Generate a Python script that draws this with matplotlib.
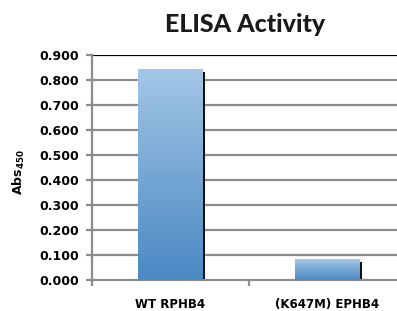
import matplotlib
matplotlib.use("Agg")
import matplotlib.pyplot as plt
import numpy as np
from matplotlib.colors import LinearSegmentedColormap

categories = ["WT RPHB4", "(K647M) EPHB4"]
values = [0.844, 0.084]
yticks = [0.0, 0.1, 0.2, 0.3, 0.4, 0.5, 0.6, 0.7, 0.8, 0.9]

fig = plt.figure(figsize=(3.97, 3.11), dpi=100)
ax = fig.add_axes([92/397, 31/311, 1 - 92/397, 225/311])
ax.set_xlim(-0.5, 1.443)
ax.set_ylim(0, 0.9)

# gridlines
for t in yticks[1:]:
    ax.axhline(t, color="#000000" if t == 0.9 else "#8c8c8c",
               lw=1.6, zorder=1)

cmap = LinearSegmentedColormap.from_list("b", ["#4a89c3", "#a3c6e6"])
width = 0.41
for i, v in enumerate(values):
    # shadow
    ax.bar(i + 0.014, v - 0.012, width=width, color="#111111", zorder=2)
    bars = ax.bar(i, v, width=width, color="none", zorder=3)
    b = bars[0]
    grad = np.linspace(0, 1, 256).reshape(-1, 1)
    im = ax.imshow(grad, cmap=cmap, origin="lower", aspect="auto",
                   extent=[i - width/2, i + width/2, 0, v], zorder=3)
    im.set_clip_path(b)

ax.set_xlim(-0.5, 1.443)
ax.set_ylim(0, 0.9)

for s in ["top", "right"]:
    ax.spines[s].set_visible(False)
for s in ["left", "bottom"]:
    ax.spines[s].set_color("#8c8c8c")
    ax.spines[s].set_linewidth(1.6)

ax.set_yticks(yticks)
ax.set_yticklabels([f"{t:.3f}" for t in yticks], fontsize=9, fontweight="bold")
ax.tick_params(axis="y", length=4, width=1.6, color="#8c8c8c", pad=5)
ax.set_xticks([-0.5, 0.5], minor=False)
ax.set_xticklabels(["", ""])
ax.tick_params(axis="x", length=4, width=1.6, color="#8c8c8c", direction="out")
for i, c in enumerate(categories):
    ax.text(i, -0.098, c, ha="center", va="center", fontsize=8.5,
            fontweight="bold", transform=ax.transData)

fig.text(19/397, 1 - 172/311, r"Abs$_{\mathbf{450}}$", rotation=90,
         ha="center", va="center", fontsize=9, fontweight="bold")
fig.text(245/397, 1 - 25/311, "ELISA Activity", ha="center", va="center",
         fontsize=18, fontweight="black", family="Lato",
         color="#1a1a1a")

fig.savefig("out.png", dpi=100)
